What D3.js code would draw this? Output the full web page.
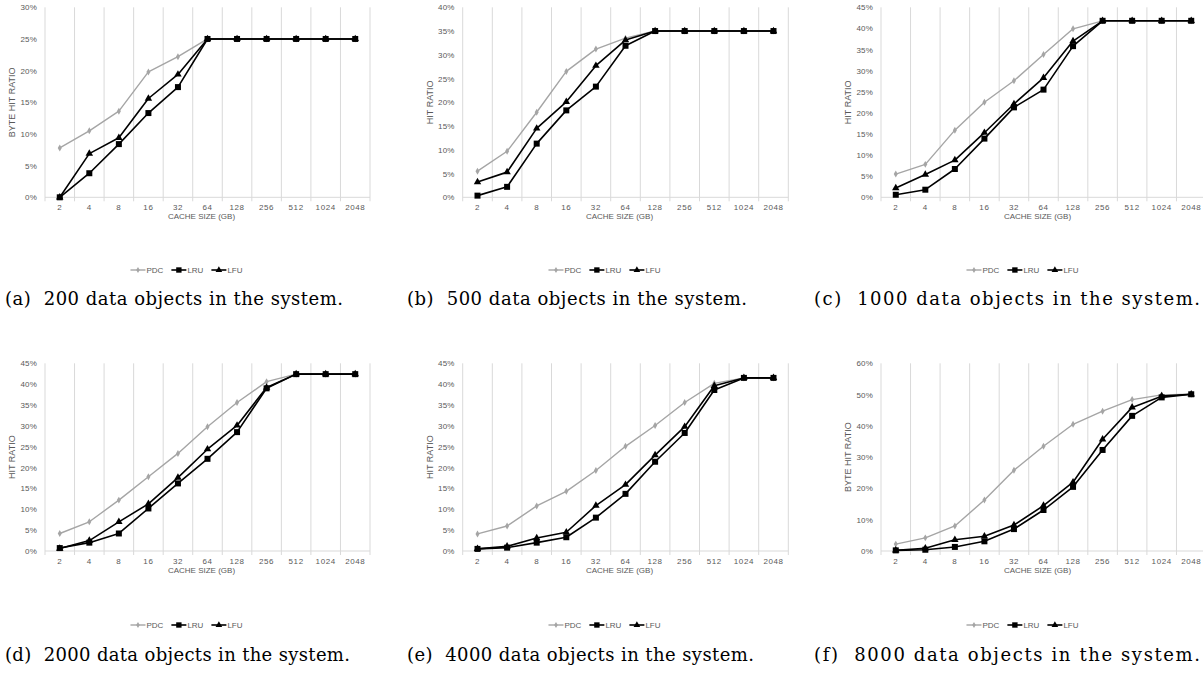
<!DOCTYPE html>
<html>
<head>
<meta charset="utf-8">
<script src="https://cdn.jsdelivr.net/npm/d3@7"></script>
<style>
  body { margin: 0; background: #fff; }
  .tick-lbl { font-family: "Liberation Sans", Arial, sans-serif; font-size: 8px; fill: #595959; letter-spacing: 0.6px; }
  .ax-title { font-family: "Liberation Sans", Arial, sans-serif; font-size: 8px; fill: #595959; }
  .y-title { font-family: "Liberation Sans", Arial, sans-serif; font-size: 9px; fill: #595959; }
  .leg { font-family: "Liberation Sans", Arial, sans-serif; font-size: 8px; fill: #595959; }
  .caption { font-family: "DejaVu Serif", serif; font-size: 18px; fill: #000; }
</style>
</head>
<body>
<div id="chart"></div>
<script>
// cache sizes (GB) on the x axis, same for every panel
var cacheSizes = ["2", "4", "8", "16", "32", "64", "128", "256", "512", "1024", "2048"];
var seriesNames = ["PDC", "LRU", "LFU"];

// (a) 200 objects - byte hit ratio (%)
var pdc200 = [7.8, 10.5, 13.6, 19.8, 22.2, 25, 25, 25, 25, 25, 25];
var lru200 = [0, 3.8, 8.4, 13.3, 17.4, 25, 25, 25, 25, 25, 25];
var lfu200 = [0, 6.9, 9.4, 15.6, 19.4, 25, 25, 25, 25, 25, 25];

// (b) 500 objects - hit ratio (%)
var pdc500 = [5.5, 9.7, 17.9, 26.5, 31.2, 33.5, 35, 35, 35, 35, 35];
var lru500 = [0.35, 2.2, 11.3, 18.3, 23.3, 31.9, 35, 35, 35, 35, 35];
var lfu500 = [3.2, 5.3, 14.5, 20.1, 27.7, 33.1, 35, 35, 35, 35, 35];

// (c) 1000 objects - hit ratio (%)
var pdc1000 = [5.5, 7.8, 15.9, 22.5, 27.6, 33.8, 39.9, 41.8, 41.8, 41.8, 41.8];
var lru1000 = [0.6, 1.8, 6.7, 13.9, 21.3, 25.5, 35.8, 41.8, 41.8, 41.8, 41.8];
var lfu1000 = [2.2, 5.4, 8.8, 15.3, 22.1, 28.3, 37.0, 41.8, 41.8, 41.8, 41.8];

// (d) 2000 objects - hit ratio (%)
var pdc2000 = [4.2, 7.0, 12.2, 17.8, 23.4, 29.8, 35.6, 40.6, 42.4, 42.4, 42.4];
var lru2000 = [0.7, 2.0, 4.2, 10.2, 16.2, 22.1, 28.5, 39.0, 42.4, 42.4, 42.4];
var lfu2000 = [0.6, 2.5, 7.0, 11.3, 17.6, 24.4, 30.1, 39.2, 42.4, 42.4, 42.4];

// (e) 4000 objects - hit ratio (%)
var pdc4000 = [4.1, 6.0, 10.8, 14.3, 19.3, 25.1, 30.1, 35.6, 40.2, 41.5, 41.5];
var lru4000 = [0.5, 0.8, 2.0, 3.3, 8.0, 13.7, 21.4, 28.3, 38.6, 41.5, 41.5];
var lfu4000 = [0.5, 1.1, 3.1, 4.5, 10.9, 15.9, 23.0, 29.8, 39.6, 41.5, 41.5];

// (f) 8000 objects - byte hit ratio (%)
var pdc8000 = [2.2, 4.2, 8.0, 16.3, 25.8, 33.5, 40.5, 44.7, 48.4, 49.9, 50.1];
var lru8000 = [0.2, 0.4, 1.3, 3.1, 7.0, 13.1, 20.5, 32.3, 43.2, 49.1, 50.1];
var lfu8000 = [0.2, 0.9, 3.6, 4.7, 8.3, 14.5, 22.0, 35.7, 45.9, 49.5, 50.1];

// y tick labels per panel
var ticksA = [0, 5, 10, 15, 20, 25, 30];
var ticksB = [0, 5, 10, 15, 20, 25, 30, 35, 40];
var ticksC = [0, 5, 10, 15, 20, 25, 30, 35, 40, 45];
var ticksF = [0, 10, 20, 30, 40, 50, 60];

var captions = [
  "(a)  200 data objects in the system.",
  "(b)  500 data objects in the system.",
  "(c)  1000 data objects in the system.",
  "(d)  2000 data objects in the system.",
  "(e)  4000 data objects in the system.",
  "(f)  8000 data objects in the system."
];

// panel layout
var cols = [
  { left: 45, right: 370, capX: 5 },
  { left: 462.7, right: 788.3, capX: 407 },
  { left: 881, right: 1206, capX: 814 }
];
var rows = [
  { top: 7.3, bottom: 197.3, legY: 270, capY: 305 },
  { top: 363.3, bottom: 551, legY: 625, capY: 661 }
];
// caption widths as they appear in the figure
var capWidths = [338, 340, 386, 345, 347, 386];

var panels = [
  { col: 0, row: 0, yTitle: "BYTE HIT RATIO", ticks: ticksA, data: [pdc200, lru200, lfu200] },
  { col: 1, row: 0, yTitle: "HIT RATIO", ticks: ticksB, data: [pdc500, lru500, lfu500] },
  { col: 2, row: 0, yTitle: "HIT RATIO", ticks: ticksC, data: [pdc1000, lru1000, lfu1000] },
  { col: 0, row: 1, yTitle: "HIT RATIO", ticks: ticksC, data: [pdc2000, lru2000, lfu2000] },
  { col: 1, row: 1, yTitle: "HIT RATIO", ticks: ticksC, data: [pdc4000, lru4000, lfu4000] },
  { col: 2, row: 1, yTitle: "BYTE HIT RATIO", ticks: ticksF, data: [pdc8000, lru8000, lfu8000] }
];

var styles = [
  { color: "#a5a5a5", width: 1.4, symbol: d3.symbolDiamond, size: 14 },
  { color: "#000000", width: 1.6, symbol: d3.symbolSquare, size: 36 },
  { color: "#000000", width: 1.6, symbol: d3.symbolTriangle, size: 24 }
];

var svg = d3.select("#chart").append("svg")
  .attr("width", 1203)
  .attr("height", 679);

panels.forEach(function(p, i) {
  var c = cols[p.col], r = rows[p.row];
  var g = svg.append("g");

  var x = d3.scaleBand().domain(cacheSizes).range([c.left, c.right]).padding(0);
  var yMax = p.ticks[p.ticks.length - 1];
  var y = d3.scaleLinear().domain([0, yMax]).range([r.bottom, r.top]);
  var cx = function(d) { return x(d) + x.bandwidth() / 2; };

  // vertical gridlines at category boundaries
  var bounds = cacheSizes.map(function(d) { return x(d); }).concat([c.right]);
  g.selectAll(".grid").data(bounds).enter().append("line")
    .attr("x1", function(d) { return d; }).attr("x2", function(d) { return d; })
    .attr("y1", r.top).attr("y2", r.bottom + 4)
    .attr("stroke", "#d9d9d9").attr("stroke-width", 1);

  // baseline
  g.append("line")
    .attr("x1", c.left).attr("x2", c.right)
    .attr("y1", r.bottom).attr("y2", r.bottom)
    .attr("stroke", "#d9d9d9").attr("stroke-width", 1);

  // y tick labels
  g.selectAll(".ylbl").data(p.ticks).enter().append("text")
    .attr("class", "tick-lbl")
    .attr("x", c.left - 8)
    .attr("y", function(d) { return y(d) + 3; })
    .attr("text-anchor", "end")
    .style("letter-spacing", "0.2px")
    .text(function(d) { return d + "%"; });

  // x tick labels
  g.selectAll(".xlbl").data(cacheSizes).enter().append("text")
    .attr("class", "tick-lbl")
    .attr("x", cx)
    .attr("y", r.bottom + 12.5)
    .attr("text-anchor", "middle")
    .text(function(d) { return d; });

  // axis titles
  g.append("text")
    .attr("class", "ax-title")
    .attr("x", (c.left + c.right) / 2 - 6)
    .attr("y", r.bottom + 21.5)
    .attr("text-anchor", "middle")
    .text("CACHE SIZE (GB)");

  g.append("text")
    .attr("class", "y-title")
    .attr("transform", "translate(" + (c.left - 30) + "," + ((r.top + r.bottom) / 2) + ") rotate(-90)")
    .attr("text-anchor", "middle")
    .text(p.yTitle);

  // series lines + markers
  var line = d3.line()
    .x(function(d, j) { return cx(cacheSizes[j]); })
    .y(function(d) { return y(d); });

  p.data.forEach(function(vals, s) {
    var st = styles[s];
    g.append("path")
      .datum(vals)
      .attr("d", line)
      .attr("fill", "none")
      .attr("stroke", st.color)
      .attr("stroke-width", st.width)
      .attr("stroke-linejoin", "round");

    g.selectAll(".m" + s).data(vals).enter().append("path")
      .attr("d", d3.symbol().type(st.symbol).size(st.size))
      .attr("transform", function(d, j) { return "translate(" + cx(cacheSizes[j]) + "," + y(d) + ")"; })
      .attr("fill", st.color);
  });

  // legend
  var leg = g.append("g");
  var pos = 0;
  seriesNames.forEach(function(name, s) {
    var st = styles[s];
    leg.append("line")
      .attr("x1", pos).attr("x2", pos + 15)
      .attr("y1", 0).attr("y2", 0)
      .attr("stroke", st.color).attr("stroke-width", st.width);
    leg.append("path")
      .attr("d", d3.symbol().type(st.symbol).size(st.size * 0.8))
      .attr("transform", "translate(" + (pos + 7.5) + ",0)")
      .attr("fill", st.color);
    var t = leg.append("text")
      .attr("class", "leg")
      .attr("x", pos + 16)
      .attr("y", 3)
      .text(name);
    pos += 16 + t.node().getComputedTextLength() + 8;
  });
  var legW = pos - 8;
  var legCx = (c.left + c.right) / 2 - 21;
  leg.attr("transform", "translate(" + (legCx - legW / 2) + "," + r.legY + ")");

  // caption
  svg.append("text")
    .attr("class", "caption")
    .attr("x", c.capX)
    .attr("y", r.capY)
    .attr("xml:space", "preserve")
    .style("white-space", "pre")
    .attr("textLength", capWidths[i])
    .attr("lengthAdjust", "spacing")
    .text(captions[i]);
});
</script>
</body>
</html>
